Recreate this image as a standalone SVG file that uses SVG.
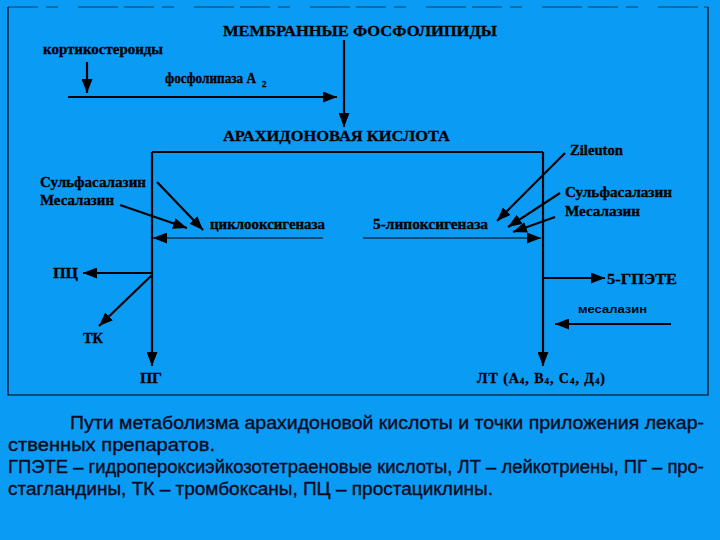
<svg xmlns="http://www.w3.org/2000/svg" width="720" height="540" viewBox="0 0 720 540">
<style>
.lbl{font-family:"Liberation Serif","DejaVu Serif",serif;font-weight:bold;font-size:14px;fill:#000;stroke:#000;stroke-width:0.3}
.big{font-size:15px}
.cap{font-family:"Liberation Sans Narrow","Liberation Sans","DejaVu Sans",sans-serif;font-size:17.5px;fill:#0a0a20;stroke:#0a0a20;stroke-width:0.35}
.ln{stroke:#000;stroke-width:2.2;fill:none}
.thin{stroke:#000;stroke-width:1.2;fill:none}
.arr{marker-end:url(#ah)}
</style>
<defs>
<marker id="ah" viewBox="0 0 10 10" refX="10" refY="5" markerWidth="14" markerHeight="11" preserveAspectRatio="none" markerUnits="userSpaceOnUse" orient="auto"><path d="M0,0 L10,5 L0,10 z" fill="#000"/></marker>
</defs>
<rect x="0" y="0" width="720" height="540" fill="#0a9cf5"/>
<g id="frame">
<path d="M8,7 V395 H708 V7" class="thin" stroke-width="1.6"/>
<path d="M8,7 H708" stroke="#000" stroke-width="1" stroke-opacity="0.6" stroke-dasharray="30,8,12,20,40,6" fill="none"/>
</g>
<g id="connectors">
<line x1="87" y1="62" x2="87" y2="93" class="ln arr"/>
<line x1="68" y1="97" x2="337" y2="97" class="ln arr"/>
<line x1="344" y1="40" x2="344" y2="127" class="ln arr"/>
<path d="M152,152 H543" class="ln"/>
<line x1="152" y1="152" x2="152" y2="366" class="ln arr"/>
<line x1="543" y1="152" x2="543" y2="366" class="ln arr"/>
<line x1="323" y1="238" x2="153" y2="238" class="thin arr"/>
<line x1="363" y1="238" x2="541" y2="238" class="thin arr"/>
<line x1="157" y1="182" x2="203" y2="230" class="ln arr"/>
<line x1="120" y1="205" x2="187" y2="228" class="ln arr"/>
<line x1="565" y1="153" x2="497" y2="221" class="ln arr"/>
<line x1="560" y1="193" x2="508" y2="227" class="ln arr"/>
<line x1="555" y1="217" x2="513" y2="232" class="ln arr"/>
<line x1="152" y1="273" x2="83" y2="273" class="ln arr"/>
<line x1="152" y1="275" x2="99" y2="326" class="ln arr"/>
<line x1="543" y1="278" x2="605" y2="278" class="ln arr"/>
<line x1="671" y1="324" x2="555" y2="324" class="ln arr"/>
</g>
<g id="membrane"><text class="lbl big" x="223" y="36" textLength="274" lengthAdjust="spacingAndGlyphs">МЕМБРАННЫЕ  ФОСФОЛИПИДЫ</text></g>
<g id="corticosteroids"><text class="lbl" x="43" y="54" textLength="120" lengthAdjust="spacingAndGlyphs">кортикостероиды</text></g>
<g id="pla2"><text class="lbl" x="165" y="83" textLength="91" lengthAdjust="spacingAndGlyphs">фосфолипаза А</text><text class="lbl" x="262" y="87" style="font-size:9px">2</text></g>
<g id="arachidonic"><text class="lbl big" x="223" y="141" textLength="227" lengthAdjust="spacingAndGlyphs">АРАХИДОНОВАЯ  КИСЛОТА</text></g>
<g id="sulfa-left"><text class="lbl" x="40" y="187" textLength="106" lengthAdjust="spacingAndGlyphs">Сульфасалазин</text></g>
<g id="mesa-left"><text class="lbl" x="40" y="205" textLength="74" lengthAdjust="spacingAndGlyphs">Месалазин</text></g>
<g id="cox"><text class="lbl" x="210" y="229" textLength="115" lengthAdjust="spacingAndGlyphs">циклооксигеназа</text></g>
<g id="lox"><text class="lbl" x="373" y="229" textLength="115" lengthAdjust="spacingAndGlyphs">5-липоксигеназа</text></g>
<g id="zileuton"><text class="lbl" x="570" y="155" textLength="53" lengthAdjust="spacingAndGlyphs">Zileuton</text></g>
<g id="sulfa-right"><text class="lbl" x="565" y="197" textLength="107" lengthAdjust="spacingAndGlyphs">Сульфасалазин</text></g>
<g id="mesa-right"><text class="lbl" x="565" y="216" textLength="75" lengthAdjust="spacingAndGlyphs">Месалазин</text></g>
<g id="pc"><text class="lbl" x="53" y="278" textLength="25" lengthAdjust="spacingAndGlyphs">ПЦ</text></g>
<g id="tk"><text class="lbl" x="83" y="343" textLength="20" lengthAdjust="spacingAndGlyphs">ТК</text></g>
<g id="pg"><text class="lbl" x="140" y="383" textLength="22" lengthAdjust="spacingAndGlyphs">ПГ</text></g>
<g id="hpete"><text class="lbl" x="607" y="284" textLength="70" lengthAdjust="spacingAndGlyphs">5-ГПЭТЕ</text></g>
<g id="mesa-lt"><text x="578" y="313" textLength="69" lengthAdjust="spacingAndGlyphs" style="font-family:'Liberation Sans',sans-serif;font-weight:bold;font-size:11px;fill:#000">месалазин</text></g>
<g id="lt"><text class="lbl" x="477" y="383" textLength="128" lengthAdjust="spacing">ЛТ (А<tspan font-size="9" dy="1">4</tspan><tspan dy="-1">, В</tspan><tspan font-size="9" dy="1">4</tspan><tspan dy="-1">, С</tspan><tspan font-size="9" dy="1">4</tspan><tspan dy="-1">, Д</tspan><tspan font-size="9" dy="1">4</tspan><tspan dy="-1">)</tspan></text></g>
<g id="caption">
<text class="cap" x="70" y="429" textLength="634" lengthAdjust="spacingAndGlyphs">Пути метаболизма арахидоновой кислоты и точки приложения лекар-</text>
<text class="cap" x="8" y="451" textLength="207" lengthAdjust="spacingAndGlyphs">ственных препаратов.</text>
<text class="cap" x="8" y="473" textLength="696" lengthAdjust="spacingAndGlyphs">ГПЭТЕ – гидропероксиэйкозотетраеновые кислоты, ЛТ – лейкотриены, ПГ – про-</text>
<text class="cap" x="8" y="495" textLength="485" lengthAdjust="spacingAndGlyphs">стагландины, ТК – тромбоксаны, ПЦ – простациклины.</text>
</g>
</svg>
